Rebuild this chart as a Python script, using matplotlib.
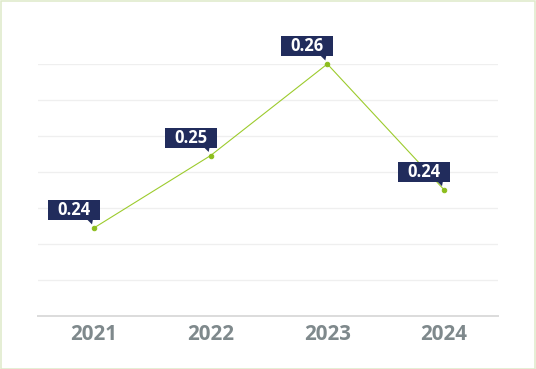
import matplotlib
matplotlib.use("Agg")
import matplotlib.pyplot as plt
import matplotlib.transforms as mtransforms
from matplotlib.patches import Rectangle, Polygon
import numpy as np

years = ["2021", "2022", "2023", "2024"]
values = [0.236, 0.2466, 0.260, 0.2416]
labels = [f"{v:.2f}" for v in values]

y_min, y_max = 0.2231, 0.260
n_grid = 8

DPI = 72
fig = plt.figure(figsize=(536 / DPI, 369 / DPI), dpi=DPI)
fig.patch.set_facecolor("white")

W, H = 536, 369
ax = fig.add_axes([38 / W, (H - 316) / H, (498 - 38) / W, (316 - 64) / H])
ax.set_facecolor("white")

x = np.arange(len(years))
ax.set_xlim(-0.48, 3.463)
ax.set_ylim(y_min, y_max)

grid_vals = np.linspace(y_min, y_max, n_grid)
for g in grid_vals[1:]:
    ax.axhline(g, color="#efefef", lw=1.3, zorder=0)
for s in ["top", "right", "left"]:
    ax.spines[s].set_visible(False)
ax.spines["bottom"].set_color("#dcdcdc")
ax.spines["bottom"].set_linewidth(2)
ax.set_yticks([])
ax.set_xticks(x)
ax.set_xticklabels(years, fontsize=20.5, fontweight="bold", color="#7f898c",
                   family=["Open Sans", "DejaVu Sans"])
ax.tick_params(axis="x", length=0, pad=8)

ax.plot(x, values, color="#9ccb2c", lw=1.1, zorder=3, clip_on=False)
ax.plot(x, values, "o", color="#8cbd1c", ms=4.5, zorder=4, clip_on=False)

box_color = "#212c5c"
for xi, v, lab in zip(x, values, labels):
    trans = mtransforms.Affine2D().scale(DPI / 72) + mtransforms.ScaledTranslation(xi, v, ax.transData)
    rect = Rectangle((-46, 8), 52, 20, transform=trans, facecolor=box_color,
                     edgecolor="none", clip_on=False, zorder=5)
    ax.add_patch(rect)
    tri = Polygon([(-7, 8.5), (-1, 8.5), (-2, 3.5)], closed=True, transform=trans,
                  facecolor=box_color, edgecolor="none", clip_on=False, zorder=5)
    ax.add_patch(tri)
    ax.text(-20, 18, lab, transform=trans, ha="center", va="center",
            fontsize=16.5, fontweight="bold", color="white",
            family=["Open Sans", "DejaVu Sans"], zorder=6, clip_on=False)

# outer border
border = Rectangle((0.5 / W, 0.5 / H), 1 - 1.5 / W, 1 - 1.5 / H, transform=fig.transFigure,
                   facecolor="none", edgecolor="#dde9c8", lw=1.5)
fig.patches.append(border)

fig.savefig("out.png", dpi=DPI, facecolor="white")
